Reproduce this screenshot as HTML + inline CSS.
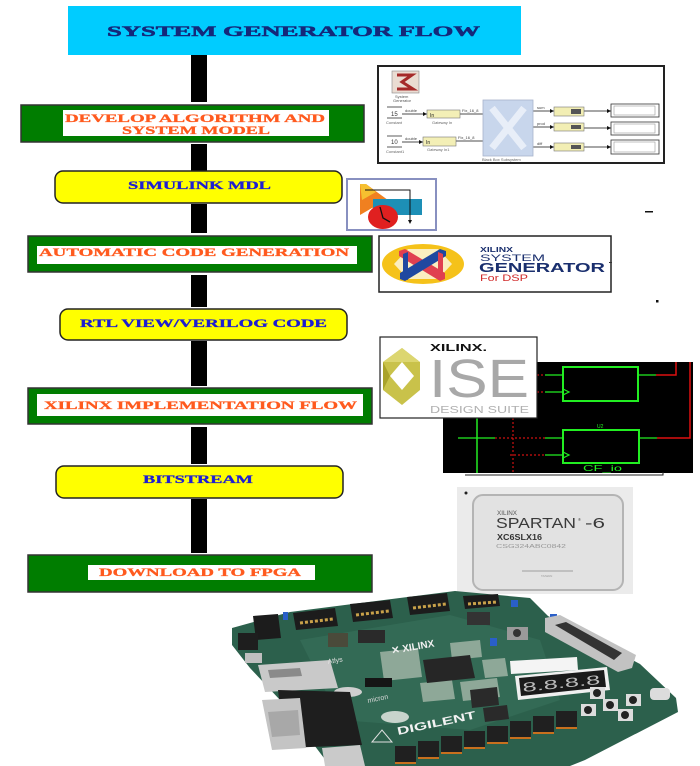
<!DOCTYPE html>
<html><head><meta charset="utf-8"><style>
html,body{margin:0;padding:0;background:#fff;}
svg{display:block;}
.f{font-family:"Liberation Serif",serif;font-weight:bold;}
.s{font-family:"Liberation Sans",sans-serif;}
</style></head><body>
<svg width="700" height="766" viewBox="0 0 700 766" xmlns="http://www.w3.org/2000/svg">
<rect width="700" height="766" fill="#fff"/>

<!-- Title -->
<rect x="68" y="6" width="453" height="49" fill="#00ccff"/>
<text class="f" x="107" y="36" font-size="15" fill="#15287a" stroke="#15287a" stroke-width="0.5" textLength="373" lengthAdjust="spacingAndGlyphs">SYSTEM GENERATOR FLOW</text>

<!-- connector bars -->
<g fill="#000">
<rect x="191" y="55" width="16" height="47"/>
<rect x="191" y="144" width="16" height="27"/>
<rect x="191" y="204" width="16" height="29"/>
<rect x="191" y="275" width="16" height="32"/>
<rect x="191" y="341" width="16" height="45"/>
<rect x="191" y="427" width="16" height="37"/>
<rect x="191" y="499" width="16" height="54"/>
</g>

<!-- Box 1 -->
<rect x="21" y="105" width="343" height="37" fill="#007d00" stroke="#333" stroke-width="1.5"/>
<rect x="63" y="110" width="266" height="26" fill="#fff"/>
<g stroke="#ff5a1e" stroke-width="0.3">
<text class="f" x="65" y="122" font-size="11.5" fill="#ff5a1e" textLength="260" lengthAdjust="spacingAndGlyphs">DEVELOP ALGORITHM AND</text>
<text class="f" x="122" y="134" font-size="11.5" fill="#ff5a1e" textLength="148" lengthAdjust="spacingAndGlyphs">SYSTEM MODEL</text>
</g>

<!-- Simulink MDL -->
<rect x="55" y="171" width="287" height="32" rx="8" fill="#ffff00" stroke="#222" stroke-width="1.5"/>
<text class="f" x="128" y="189" font-size="12" fill="#1e1ed2" stroke="#1e1ed2" stroke-width="0.3" textLength="143" lengthAdjust="spacingAndGlyphs">SIMULINK MDL</text>

<!-- Automatic code generation -->
<rect x="28" y="236" width="344" height="36" fill="#007d00" stroke="#333" stroke-width="1.5"/>
<rect x="37" y="246" width="320" height="18" fill="#fff"/>
<text class="f" x="39" y="256" font-size="11.5" fill="#ff5a1e" stroke="#ff5a1e" stroke-width="0.3" textLength="310" lengthAdjust="spacingAndGlyphs">AUTOMATIC CODE GENERATION</text>

<!-- RTL -->
<rect x="60" y="309" width="287" height="31" rx="8" fill="#ffff00" stroke="#222" stroke-width="1.5"/>
<text class="f" x="80" y="327" font-size="12" fill="#1e1ed2" stroke="#1e1ed2" stroke-width="0.3" textLength="247" lengthAdjust="spacingAndGlyphs">RTL VIEW/VERILOG CODE</text>

<!-- Xilinx implementation -->
<rect x="28" y="388" width="344" height="36" fill="#007d00" stroke="#333" stroke-width="1.5"/>
<rect x="37" y="394" width="326" height="22" fill="#fff"/>
<text class="f" x="44" y="409" font-size="11.5" fill="#ff5a1e" stroke="#ff5a1e" stroke-width="0.3" textLength="313" lengthAdjust="spacingAndGlyphs">XILINX IMPLEMENTATION FLOW</text>

<!-- Bitstream -->
<rect x="56" y="466" width="287" height="32" rx="8" fill="#ffff00" stroke="#222" stroke-width="1.5"/>
<text class="f" x="143" y="483" font-size="12" fill="#1e1ed2" stroke="#1e1ed2" stroke-width="0.3" textLength="110" lengthAdjust="spacingAndGlyphs">BITSTREAM</text>

<!-- Download -->
<rect x="28" y="555" width="344" height="37" fill="#007d00" stroke="#333" stroke-width="1.5"/>
<rect x="88" y="565" width="227" height="15" fill="#fff"/>
<text class="f" x="99" y="576" font-size="11.5" fill="#ff5a1e" stroke="#ff5a1e" stroke-width="0.3" textLength="202" lengthAdjust="spacingAndGlyphs">DOWNLOAD TO FPGA</text>

<!-- Simulink model diagram -->
<g>
<rect x="378" y="66" width="286" height="97" fill="#fff" stroke="#222" stroke-width="2"/>
<rect x="392" y="71" width="27" height="22" fill="#eadcd2" stroke="#888" stroke-width="0.6"/>
<path d="M397 75 L412 75 L402 82 L413 89 L397 89" fill="none" stroke="#a52a2a" stroke-width="3"/>
<text class="s" x="395" y="98" font-size="4" fill="#555">System</text>
<text class="s" x="393" y="102" font-size="4" fill="#555">Generator</text>
<line x1="387" y1="107" x2="402" y2="107" stroke="#333" stroke-width="0.8"/>
<line x1="387" y1="118" x2="402" y2="118" stroke="#333" stroke-width="0.8"/>
<text class="s" x="391" y="116" font-size="6" fill="#333">15</text>
<text class="s" x="386" y="124" font-size="4" fill="#666">Constant</text>
<line x1="387" y1="136" x2="402" y2="136" stroke="#333" stroke-width="0.8"/>
<line x1="387" y1="147" x2="402" y2="147" stroke="#333" stroke-width="0.8"/>
<text class="s" x="391" y="144" font-size="6" fill="#333">10</text>
<text class="s" x="386" y="153" font-size="4" fill="#666">Constant1</text>
<g stroke="#111" stroke-width="0.8">
<line x1="402" y1="114" x2="427" y2="114"/>
<line x1="402" y1="142" x2="423" y2="142"/>
<line x1="460" y1="114" x2="483" y2="114"/>
<line x1="456" y1="141" x2="483" y2="141"/>
<line x1="533" y1="111" x2="554" y2="111"/>
<line x1="533" y1="127" x2="554" y2="127"/>
<line x1="533" y1="147" x2="554" y2="147"/>
<line x1="584" y1="111" x2="611" y2="111"/>
<line x1="584" y1="128" x2="611" y2="128"/>
<line x1="584" y1="147" x2="611" y2="147"/>
</g>
<g fill="#111">
<path d="M427 114 l-4 -2 v4z"/><path d="M423 142 l-4 -2 v4z"/>
<path d="M554 111 l-4 -2 v4z"/><path d="M554 127 l-4 -2 v4z"/><path d="M554 147 l-4 -2 v4z"/>
<path d="M611 111 l-4 -2 v4z"/><path d="M611 128 l-4 -2 v4z"/><path d="M611 147 l-4 -2 v4z"/>
</g>
<text class="s" x="405" y="112" font-size="4" fill="#444">double</text>
<text class="s" x="405" y="140" font-size="4" fill="#444">double</text>
<text class="s" x="462" y="112" font-size="4" fill="#444">Fix_16_8</text>
<text class="s" x="458" y="139" font-size="4" fill="#444">Fix_16_8</text>
<rect x="427" y="110" width="33" height="8" fill="#f3efb6" stroke="#777" stroke-width="0.6"/>
<text class="s" x="430" y="117" font-size="5" fill="#222">In</text>
<rect x="423" y="137" width="33" height="9" fill="#f3efb6" stroke="#777" stroke-width="0.6"/>
<text class="s" x="426" y="144" font-size="5" fill="#222">In</text>
<text class="s" x="432" y="124" font-size="4" fill="#666">Gateway In</text>
<text class="s" x="427" y="151" font-size="4" fill="#666">Gateway In1</text>
<rect x="483" y="100" width="50" height="56" fill="#c8d6ec" stroke="#a8b4cc" stroke-width="0.8"/>
<path d="M492 108 L524 148 M524 108 L492 148" stroke="#e8eef8" stroke-width="7"/>
<text class="s" x="482" y="161" font-size="4" fill="#666">Black Box Subsystem</text>
<text class="s" x="537" y="109" font-size="4" fill="#444">sum</text>
<text class="s" x="537" y="125" font-size="4" fill="#444">prod</text>
<text class="s" x="537" y="145" font-size="4" fill="#444">diff</text>
<g fill="#f2eeb4" stroke="#777" stroke-width="0.6">
<rect x="554" y="107" width="30" height="9"/>
<rect x="554" y="123" width="30" height="8"/>
<rect x="554" y="143" width="30" height="8"/>
</g>
<g fill="#555"><rect x="571" y="109" width="10" height="5"/><rect x="571" y="125" width="10" height="4"/><rect x="571" y="145" width="10" height="4"/></g>
<g fill="#fff" stroke="#333" stroke-width="0.8">
<rect x="611" y="104" width="48" height="13"/>
<rect x="611" y="122" width="48" height="13"/>
<rect x="611" y="140" width="48" height="14"/>
</g>
<g fill="none" stroke="#999" stroke-width="0.6">
<rect x="614" y="106" width="41" height="9"/>
<rect x="614" y="124" width="41" height="9"/>
<rect x="614" y="142" width="41" height="10"/>
</g>
</g>

<!-- Simulink icon -->
<rect x="347" y="179" width="89" height="51" fill="#fff" stroke="#8890c0" stroke-width="2"/>
<polygon points="360,184 366,184 392,203 372,208 360,215" fill="#f08020"/>
<polygon points="360,184 366,184 376,192 362,200" fill="#f6c030"/>
<rect x="373" y="199" width="49" height="16" fill="#1d8fb6"/>
<polyline points="365,190 410,190 410,222" fill="none" stroke="#111" stroke-width="1"/>
<path d="M410 224 l-2 -4 h4z" fill="#111"/>
<ellipse cx="383" cy="217" rx="15" ry="12" fill="#e02020"/>
<polyline points="380,207 383,218 390,222" fill="none" stroke="#111" stroke-width="1.3"/>

<rect x="645" y="211" width="8" height="1.5" fill="#111"/>

<!-- System Generator logo -->
<rect x="379" y="236" width="232" height="56" fill="#fff" stroke="#222" stroke-width="1.5"/>
<ellipse cx="423" cy="264" rx="41" ry="20" fill="#f5c21a"/>
<polygon points="408,249 438,249 452,264 438,279 408,279 394,264" fill="#fbeec0"/>
<polygon points="399,251 405,249 445,273 445,279 440,281 399,256" fill="#e04050"/>
<polygon points="446,251 440,249 400,273 400,279 405,281 446,256" fill="#2048a0"/>
<polygon points="403,254 408,252 408,280 403,278" fill="#2048a0"/>
<polygon points="438,252 443,254 443,278 438,280" fill="#e04050"/>
<text class="s" x="480" y="252" font-size="7" font-weight="bold" fill="#1a2f6e" textLength="33" lengthAdjust="spacingAndGlyphs">XILINX</text>
<text class="s" x="480" y="261" font-size="9" fill="#1a2f6e" textLength="65" lengthAdjust="spacingAndGlyphs">SYSTEM</text>
<text class="s" x="479" y="272" font-size="13" font-weight="bold" fill="#1a2f6e" textLength="126" lengthAdjust="spacingAndGlyphs">GENERATOR</text>
<text class="s" x="480" y="281" font-size="9" fill="#d02828" textLength="48" lengthAdjust="spacingAndGlyphs">For DSP</text>
<rect x="609" y="262" width="3" height="1" fill="#333"/>
<rect x="656" y="300" width="2.5" height="2.5" fill="#111"/>

<!-- Schematic -->
<rect x="443" y="362" width="250" height="111" fill="#000"/>
<g fill="none" stroke="#22ee22" stroke-width="2">
<rect x="563" y="367" width="75" height="34"/>
<rect x="563" y="430" width="76" height="33"/>
</g>
<g stroke="#22ee22" stroke-width="1.2" fill="none">
<line x1="545" y1="375" x2="563" y2="375"/>
<line x1="545" y1="392" x2="563" y2="392"/>
<line x1="545" y1="438" x2="563" y2="438"/>
<line x1="545" y1="455" x2="563" y2="455"/>
<line x1="638" y1="375" x2="656" y2="375"/>
<line x1="639" y1="438" x2="657" y2="438"/>
<polyline points="563,389 569,392 563,395"/>
<polyline points="563,452 569,455 563,458"/>
<line x1="477" y1="418" x2="477" y2="473" stroke-width="1.5"/>
<line x1="458" y1="438" x2="495" y2="438"/>
</g>
<g stroke="#dd1111" stroke-width="1.5" fill="none">
<polyline points="656,375 676,375 676,362"/>
<polyline points="657,438 690,438 690,362"/>
</g>
<g stroke="#cc1111" stroke-width="1.2" stroke-dasharray="2 2" fill="none">
<line x1="495" y1="438" x2="545" y2="438"/>
<line x1="510" y1="455" x2="545" y2="455"/>
<line x1="513" y1="418" x2="513" y2="473"/>
<line x1="537" y1="375" x2="545" y2="375"/>
<line x1="537" y1="392" x2="545" y2="392"/>
</g>
<text class="s" x="597" y="428" font-size="5" fill="#22ee22">U2</text>
<text class="s" x="583" y="471" font-size="8" fill="#22ee22" textLength="39" lengthAdjust="spacingAndGlyphs">CF_io</text>
<polyline points="465,475 663,475 663,472" fill="none" stroke="#222" stroke-width="1"/>

<!-- ISE logo -->
<rect x="380" y="337" width="157" height="81" fill="#fff" stroke="#222" stroke-width="1.2"/>
<polygon points="402,348 420,362 420,390 402,405 383,390 383,362" fill="#c9c24a"/>
<polygon points="402,348 420,362 402,362 383,362" fill="#dcd670"/>
<polygon points="383,362 390,376 383,390" fill="#a9a22a"/>
<polygon points="402,362 414,376 402,390 390,376" fill="#fff"/>
<text class="s" x="430" y="351" font-size="10" font-weight="bold" fill="#111" textLength="57" lengthAdjust="spacingAndGlyphs">XILINX.</text>
<text class="s" x="429" y="397" font-size="54" fill="#a8a8a8" textLength="100" lengthAdjust="spacingAndGlyphs">ISE</text>
<text class="s" x="430" y="413" font-size="10" fill="#b0b0b0" textLength="99" lengthAdjust="spacingAndGlyphs">DESIGN SUITE</text>

<!-- Spartan chip -->
<rect x="457" y="487" width="176" height="107" fill="#ebebeb"/>
<rect x="473" y="495" width="150" height="95" rx="10" fill="#e2e2e2" stroke="#b4b4b4" stroke-width="2"/>
<circle cx="466" cy="493" r="1.5" fill="#222"/>
<text class="s" x="497" y="515" font-size="6" fill="#555" textLength="20" lengthAdjust="spacingAndGlyphs">XILINX</text>
<text class="s" x="496" y="528" font-size="15" fill="#3a3a3a" textLength="80" lengthAdjust="spacingAndGlyphs">SPARTAN</text>
<text class="s" x="578" y="521" font-size="4" fill="#3a3a3a">®</text>
<text class="s" x="585" y="528" font-size="15" fill="#3a3a3a" textLength="20" lengthAdjust="spacingAndGlyphs">-6</text>
<text class="s" x="497" y="540" font-size="8.5" font-weight="bold" fill="#333" textLength="45" lengthAdjust="spacingAndGlyphs">XC6SLX16</text>
<text class="s" x="496" y="548" font-size="5" fill="#999" textLength="70" lengthAdjust="spacingAndGlyphs">CSG324ABC0842</text>
<line x1="522" y1="571" x2="573" y2="571" stroke="#888" stroke-width="0.8"/>
<text class="s" x="541" y="577" font-size="3" fill="#999">TAIWAN</text>

<!-- FPGA board -->
<g>
<polygon points="232,628 290,612 455,591 530,598 548,616 640,664 676,698 678,712 585,760 570,766 330,766 280,700 250,668 232,645" fill="#2c604c"/>
<polygon points="300,640 450,615 540,640 560,700 470,730 340,720" fill="#336a55"/>
<!-- light pad regions -->
<g fill="#8ea898">
<polygon points="380,652 418,648 422,677 384,681"/>
<polygon points="450,643 480,640 482,657 452,660"/>
<polygon points="420,683 452,680 455,699 423,702"/>
<polygon points="460,682 497,678 500,697 463,701"/>
<polygon points="482,660 505,658 508,676 485,678"/>
</g>
<!-- top connectors -->
<g fill="#1c1c1c">
<polygon points="293,613 335,608 338,626 296,630"/>
<polygon points="350,604 390,600 393,618 353,622"/>
<polygon points="407,597 447,593 450,611 410,615"/>
<polygon points="463,596 498,594 500,606 465,609"/>
<polygon points="253,616 278,614 281,638 256,640"/>
</g>
<g stroke="#c9a24a" stroke-width="3" stroke-dasharray="3 2">
<line x1="300" y1="623" x2="333" y2="619"/>
<line x1="356" y1="615" x2="389" y2="611"/>
<line x1="413" y1="608" x2="446" y2="604"/>
<line x1="468" y1="604" x2="497" y2="602"/>
</g>
<!-- blue jumpers -->
<g fill="#2a5fc8">
<rect x="283" y="612" width="5" height="8"/>
<rect x="511" y="600" width="7" height="7"/>
<rect x="550" y="614" width="7" height="6"/>
<rect x="490" y="638" width="7" height="8"/>
</g>
<!-- small parts -->
<rect x="238" y="633" width="20" height="17" fill="#1e1e1e"/>
<rect x="245" y="653" width="17" height="10" fill="#bfbfbf"/>
<rect x="358" y="630" width="27" height="13" fill="#2a2a2a"/>
<rect x="328" y="633" width="20" height="14" fill="#4a4a3a"/>
<rect x="365" y="678" width="27" height="9" fill="#151515"/>
<rect x="467" y="612" width="23" height="13" fill="#333"/>
<polygon points="423,660 470,655 475,678 427,683" fill="#262626"/>
<polygon points="470,690 497,687 499,705 472,708" fill="#2a2a2a"/>
<polygon points="483,708 507,705 509,719 485,722" fill="#2a2a2a"/>
<rect x="507" y="627" width="21" height="13" fill="#9a9a9a"/>
<circle cx="517" cy="633" r="4" fill="#333"/>
<ellipse cx="348" cy="692" rx="14" ry="5" fill="#cfcfcf"/>
<!-- ethernet -->
<polygon points="258,665 330,660 338,688 265,692" fill="#c9c9c9"/>
<polygon points="268,670 300,668 302,676 270,678" fill="#8a8a8a"/>
<!-- black usb/hdmi -->
<polygon points="278,690 350,692 362,745 285,748" fill="#1e1e1e"/>
<!-- VGA -->
<polygon points="262,700 300,698 306,748 272,750" fill="#c4c4c4"/>
<polygon points="268,712 298,710 300,735 272,737" fill="#a8a8a8"/>
<polygon points="322,748 360,745 365,766 325,766" fill="#cacaca"/>
<!-- right connector -->
<polygon points="545,618 560,615 636,655 632,668 618,672 545,632" fill="#c2c2c2"/>
<polygon points="555,625 566,622 622,653 614,660" fill="#333"/>
<!-- 7 seg -->
<polygon points="510,661 577,657 578,670 511,674" fill="#f4f4f4"/>
<polygon points="515,676 607,667 610,690 518,700" fill="#f0f0f0"/>
<polygon points="519,678 604,670 606,687 521,696" fill="#1a1a1a"/>
<text class="s" x="523" y="692" font-size="13" fill="#bbb" transform="rotate(-6 523 692)" textLength="78" lengthAdjust="spacingAndGlyphs">8.8.8.8</text>
<!-- buttons -->
<g fill="#dcdcdc">
<rect x="590" y="687" width="15" height="12"/>
<rect x="581" y="704" width="15" height="12"/>
<rect x="603" y="699" width="15" height="12"/>
<rect x="626" y="694" width="15" height="12"/>
<rect x="618" y="709" width="15" height="12"/>
<rect x="650" y="688" width="20" height="12" rx="4"/>
</g>
<g fill="#222">
<circle cx="597" cy="693" r="4"/><circle cx="588" cy="710" r="4"/><circle cx="610" cy="705" r="4"/>
<circle cx="633" cy="700" r="4"/><circle cx="625" cy="715" r="4"/>
</g>
<!-- switches -->
<g fill="#202020">
<rect x="395" y="746" width="21" height="18"/>
<rect x="418" y="741" width="21" height="18"/>
<rect x="441" y="736" width="21" height="18"/>
<rect x="464" y="731" width="21" height="18"/>
<rect x="487" y="726" width="21" height="18"/>
<rect x="510" y="721" width="21" height="18"/>
<rect x="533" y="716" width="21" height="18"/>
<rect x="556" y="711" width="21" height="18"/>
</g>
<g fill="#c8701e">
<rect x="395" y="762" width="21" height="2"/>
<rect x="418" y="757" width="21" height="2"/>
<rect x="441" y="752" width="21" height="2"/>
<rect x="464" y="747" width="21" height="2"/>
<rect x="487" y="742" width="21" height="2"/>
<rect x="510" y="737" width="21" height="2"/>
<rect x="533" y="732" width="21" height="2"/>
<rect x="556" y="727" width="21" height="2"/>
</g>
<!-- board labels -->
<text class="s" x="392" y="654" font-size="10" font-weight="bold" fill="#f0f0f0" transform="rotate(-10 392 654)">✕ XILINX</text>
<text class="s" x="328" y="664" font-size="7" fill="#e0e0e0" transform="rotate(-10 328 664)">Atlys</text>
<text class="s" x="368" y="703" font-size="7" fill="#d8d8d8" transform="rotate(-12 368 703)">micron</text>
<ellipse cx="395" cy="717" rx="14" ry="6" fill="#c8d4cc"/>
<text class="s" x="398" y="735" font-size="11" font-weight="bold" fill="#f2f2f2" transform="rotate(-12 398 735)" textLength="80" lengthAdjust="spacingAndGlyphs">DIGILENT</text>
<polygon points="372,742 382,730 392,742" fill="none" stroke="#e0e0e0" stroke-width="1"/>
</g>
</svg>
</body></html>
